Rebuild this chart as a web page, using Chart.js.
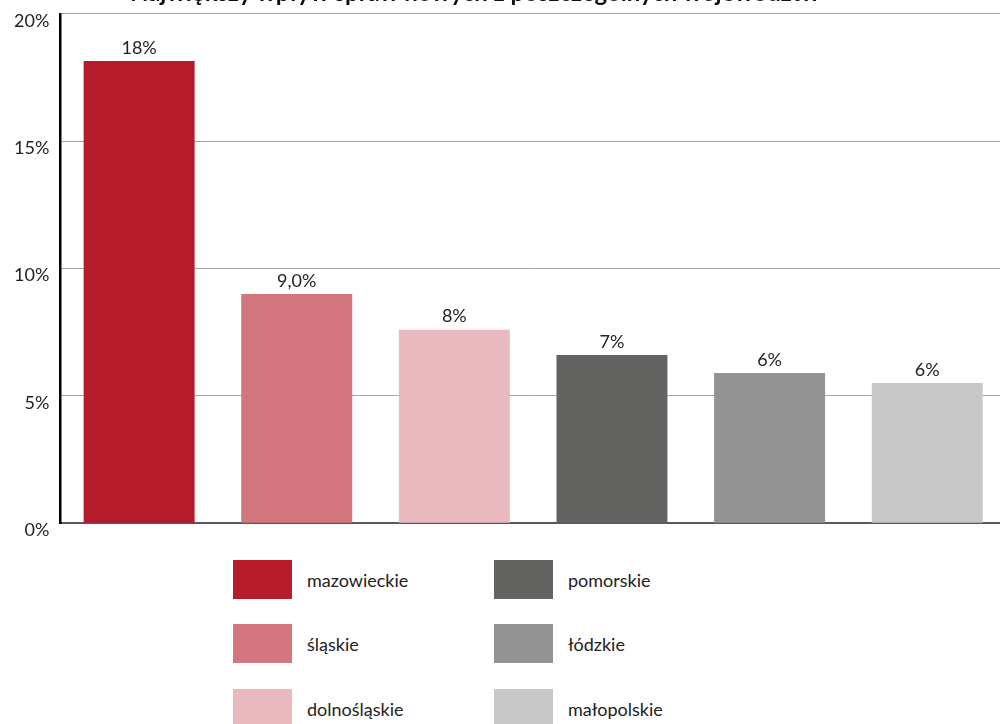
<!DOCTYPE html>
<html>
<head>
<meta charset="utf-8">
<script src="https://cdn.jsdelivr.net/npm/chart.js@4"></script>
<style>
  html, body { margin: 0; padding: 0; background: #fff; overflow: hidden; }
  body { width: 1000px; height: 724px; position: relative; font-family: Lato, sans-serif; }
  #title { position: absolute; left: 0; top: -20px; width: 950px; text-align: center;
           font: bold 24px/24px Lato, sans-serif; color: #111; white-space: nowrap; z-index: 2; }
  #wrap { position: absolute; left: 0; top: -8px; width: 1010px; height: 553px; }
  .leg { position: absolute; display: flex; align-items: center; font-size: 18px; color: #222; }
  .leg span.box { width: 59px; height: 39px; margin-right: 15px; display: inline-block; }
</style>
</head>
<body>
<div id="wrap"><canvas id="grafico" width="1010" height="553"></canvas></div>
<div id="title">Największy wpływ spraw nowych z poszczególnych województw</div>
<div id="legenda"></div>
<script>
// dane z wykresu
const wojewodztwa = ['mazowieckie', 'śląskie', 'dolnośląskie', 'pomorskie', 'łódzkie', 'małopolskie'];
const udzial = [18.15, 9.0, 7.6, 6.6, 5.9, 5.5];
const etykiety = ['18%', '9,0%', '8%', '7%', '6%', '6%'];
const kolory = ['#b51b2b', '#d3767d', '#e9b9bf', '#636362', '#939393', '#c6c7c6'];
const osY = [0, 5, 10, 15, 20];

// etykiety nad slupkami
const etykietyPlugin = {
  id: 'etykiety',
  afterDatasetsDraw(chart) {
    const ctx = chart.ctx;
    const meta = chart.getDatasetMeta(0);
    ctx.save();
    ctx.font = '18px Lato';
    ctx.fillStyle = '#222';
    ctx.textAlign = 'center';
    ctx.textBaseline = 'bottom';
    meta.data.forEach((bar, i) => {
      ctx.fillText(etykiety[i], bar.x, bar.y - 4);
    });
    ctx.restore();
  }
};

const ctx = document.getElementById('grafico').getContext('2d');
const grafico = new Chart(ctx, {
  type: 'bar',
  data: {
    labels: wojewodztwa,
    datasets: [{
      data: udzial,
      backgroundColor: kolory,
      categoryPercentage: 1,
      barPercentage: 0.704
    }]
  },
  options: {
    responsive: false,
    animation: false,
    layout: { padding: { left: 3, right: 4, top: 1, bottom: 10 } },
    scales: {
      x: {
        grid: { display: false },
        ticks: { display: false },
        border: { display: true, color: '#595959', width: 2 }
      },
      y: {
        min: osY[0],
        max: osY[osY.length - 1],
        afterBuildTicks: (scale) => { scale.ticks = osY.map(v => ({ value: v })); },
        ticks: {
          padding: 11,
          labelOffset: 7,
          color: '#222',
          font: { family: 'Lato', size: 18 },
          callback: (v) => v + '%'
        },
        grid: { color: '#a6a6a6', lineWidth: 1, drawTicks: false },
        border: { display: true, color: '#000', width: 2.5 }
      }
    },
    plugins: {
      legend: { display: false },
      tooltip: { enabled: false }
    }
  },
  plugins: [etykietyPlugin]
});

// legenda w dwoch kolumnach
const legenda = document.getElementById('legenda');
const kolumnyX = [233, 494];
const wierszeY = [560, 624, 689];
wojewodztwa.forEach((nazwa, i) => {
  const el = document.createElement('div');
  el.className = 'leg';
  el.style.left = kolumnyX[Math.floor(i / 3)] + 'px';
  el.style.top = wierszeY[i % 3] + 'px';
  el.innerHTML = '<span class="box" style="background:' + kolory[i] + '"></span>' + nazwa;
  legenda.appendChild(el);
});
</script>
</body>
</html>
